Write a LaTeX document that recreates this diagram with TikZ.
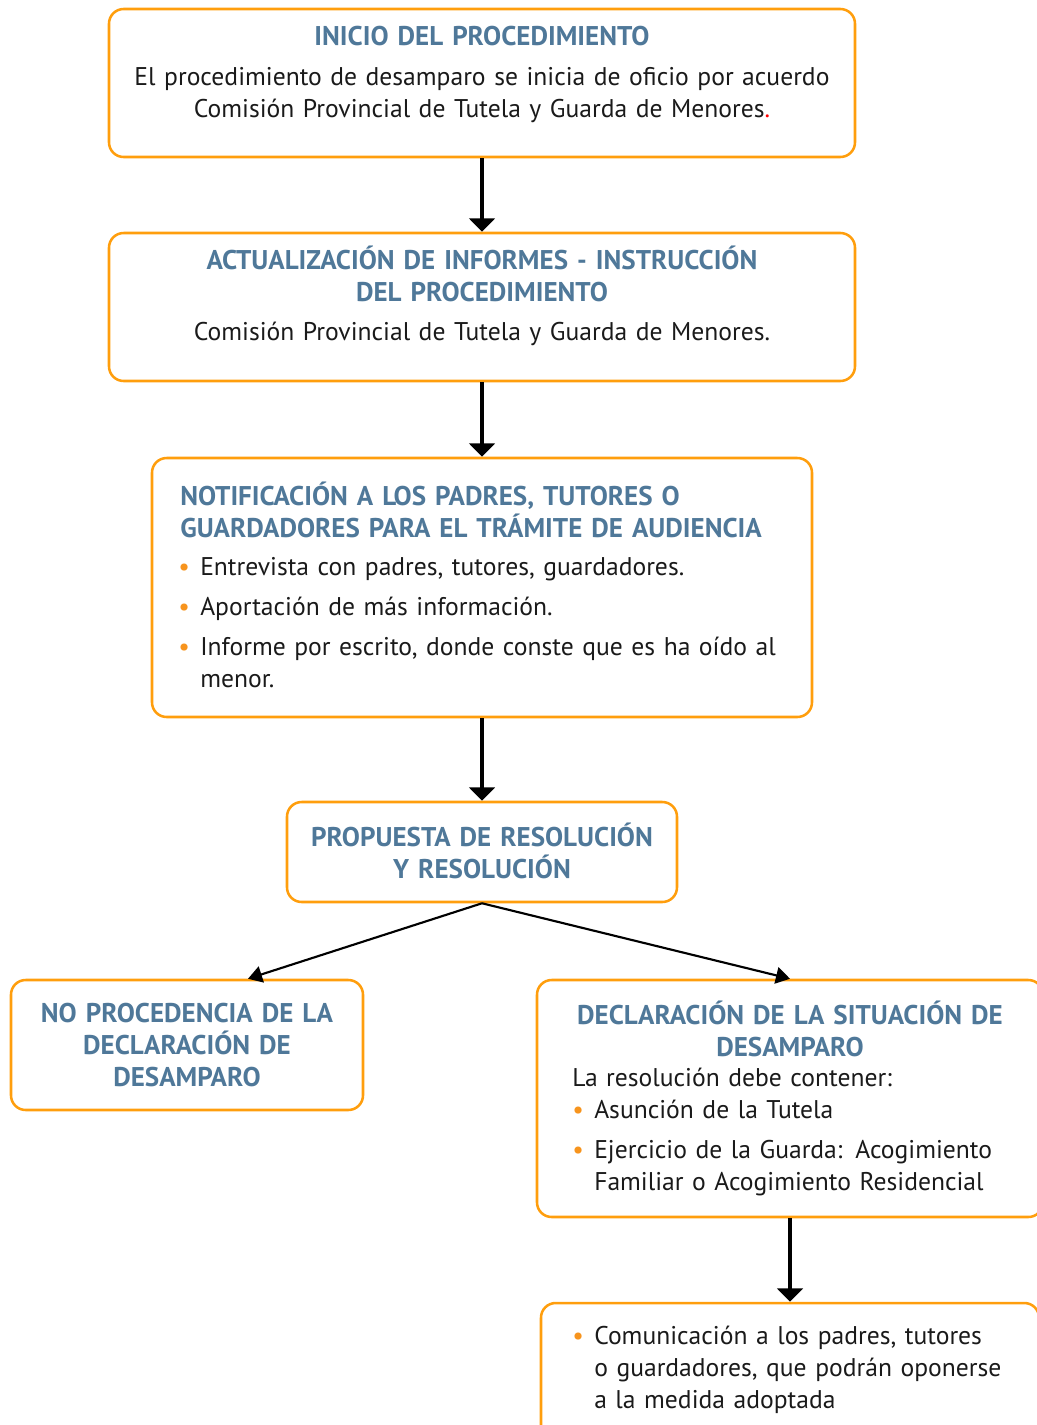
\documentclass[tikz,border=0pt]{standalone}
\usepackage{fontspec}
\setmainfont{PT Sans}
\usetikzlibrary{arrows.meta,fit}

\definecolor{boxorange}{HTML}{FF9E0D}
\definecolor{titleblue}{HTML}{4F7899}
\definecolor{bulletorange}{HTML}{F7941D}
\definecolor{bodyblack}{HTML}{1A1A1A}

\newcommand{\bodysize}{\fontsize{19.2pt}{24pt}\selectfont}
\newcommand{\titlesize}{\fontsize{20.3pt}{24pt}\selectfont\bfseries}
\newcommand{\bitem}[1]{\hangindent=16.5pt\hangafter=1\noindent\makebox[16.5pt][l]{\textcolor{bulletorange}{\textbullet}}#1\par\vskip6pt}

\tikzset{
    box/.style={draw=boxorange, line width=1.9pt, rounded corners=11pt, inner sep=0pt},
    ttl/.style={anchor=base, inner sep=0pt, text width=560pt, align=center, text=titleblue, font=\titlesize},
    txt/.style={anchor=base, inner sep=0pt, text width=560pt, align=center, text=bodyblack, font=\bodysize},
    flow/.style={-{Triangle[length=10pt, width=19pt]}, line width=2.6pt},
    branch/.style={-{Triangle[length=10.5pt, width=12.5pt]}, line width=1.6pt}
}

\begin{document}
\begin{tikzpicture}[x=0.75pt, y=-0.75pt]
    \useasboundingbox (0,0) rectangle (1037,1425);

    % inicio
    \node [box, fit={(109,9) (855,157)}] (inicio) {};
    \node [ttl] (inicioT) at (482,45) {INICIO DEL PROCEDIMIENTO};
    \node [txt] (inicioB) at (482,85) {El procedimiento de desamparo se inicia de oficio por acuerdo\\Comisión Provincial de Tutela y Guarda de Menores{\color{red}.}};

    % instruccion
    \node [box, fit={(109,233) (855,381)}] (instruc) {};
    \node [ttl] (instrucT) at (482,269) {ACTUALIZACIÓN DE INFORMES - INSTRUCCIÓN\\DEL PROCEDIMIENTO};
    \node [txt] (instrucB) at (482,340) {Comisión Provincial de Tutela y Guarda de Menores.};

    % audiencia
    \node [box, fit={(152,458) (812,717)}] (audien) {};
    \node [ttl, anchor=base west, text width=620pt, align=left] (audienT) at (180,505) {NOTIFICACIÓN A LOS PADRES, TUTORES O\\GUARDADORES PARA EL TRÁMITE DE AUDIENCIA};
    \node [txt, anchor=base west, text width=620pt, align=left] (audienB) at (178,575) {%
        \bitem{Entrevista con padres, tutores, guardadores.}
        \bitem{Aportación de más información.}
        \bitem{Informe por escrito, donde conste que es ha oído al\newline menor.}};

    % propuesta
    \node [box, fit={(287,802) (677,902)}] (propu) {};
    \node [ttl] (propuT) at (482,846) {PROPUESTA DE RESOLUCIÓN\\Y RESOLUCIÓN};

    % no procedencia
    \node [box, fit={(11,980) (363,1110)}] (noproc) {};
    \node [ttl] (noprocT) at (187,1022) {NO PROCEDENCIA DE LA\\DECLARACIÓN DE\\DESAMPARO};

    % declaracion
    \node [box, fit={(537,980) (1043,1217)}] (declar) {};
    \node [ttl] (declarT) at (790,1024) {DECLARACIÓN DE LA SITUACIÓN DE\\DESAMPARO};
    \node [txt, anchor=base west, text width=470pt, align=left] (declarB) at (572,1086) {La resolución debe contener:\par
        \bitem{Asunción de la Tutela}
        \bitem{Ejercicio de la Guarda: Acogimiento\newline Familiar o Acogimiento Residencial}};

    % comunicacion
    \node [box, fit={(541,1303) (1039,1460)}] (comuni) {};
    \node [txt, anchor=base west, text width=470pt, align=left] (comuniB) at (572,1344) {%
        \bitem{Comunicación a los padres, tutores\newline o guardadores, que podrán oponerse\newline a la medida adoptada}};

    \draw [flow] (inicio.south) -- (instruc.north);
    \draw [flow] (instruc.south) -- (audien.north);
    \draw [flow] (audien.south) -- (propu.north);
    \draw [branch] (propu.south) -- ([xshift=45.75pt]noproc.north);
    \draw [branch] (propu.south) -- (declar.north);
    \draw [flow] (declar.south) -- (comuni.north);
\end{tikzpicture}
\end{document}
